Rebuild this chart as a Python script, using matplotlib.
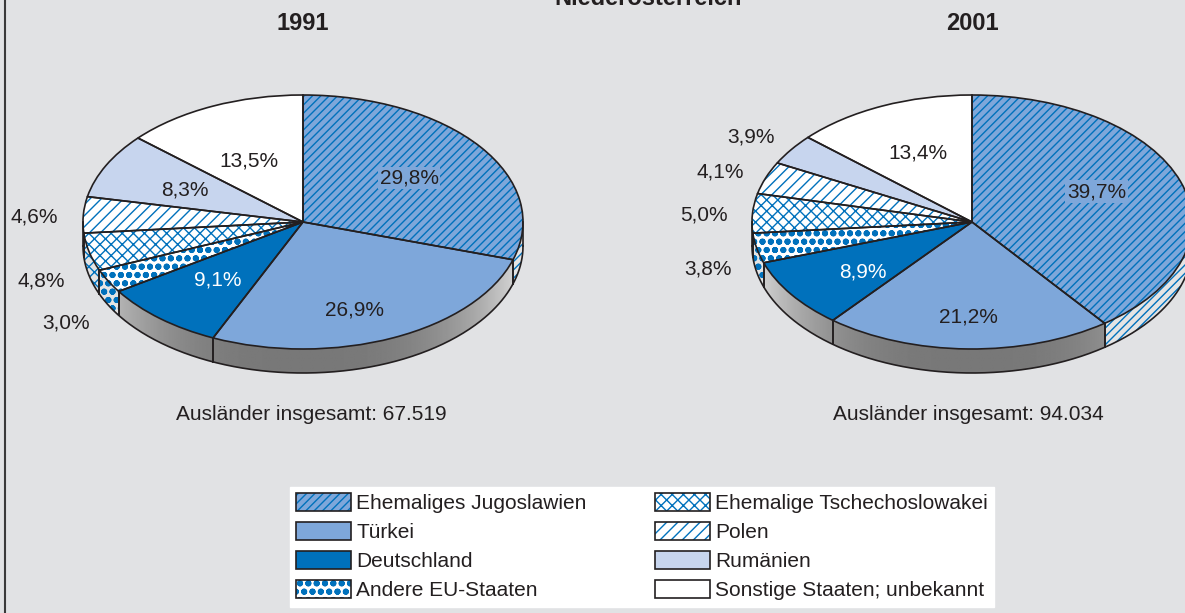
import numpy as np
import matplotlib
matplotlib.use("Agg")
import matplotlib.pyplot as plt
from matplotlib.patches import Patch, Polygon
from matplotlib.lines import Line2D
from matplotlib.legend_handler import HandlerPatch

plt.rcParams["font.family"] = ["Liberation Sans", "DejaVu Sans"]
plt.rcParams["hatch.linewidth"] = 1.0

# Daten
kategorien = ["Ehemaliges Jugoslawien", "Türkei", "Deutschland", "Andere EU-Staaten",
              "Ehemalige Tschechoslowakei", "Polen", "Rumänien",
              "Sonstige Staaten; unbekannt"]
anteil_1991 = [29.8, 26.9, 9.1, 3.0, 4.8, 4.6, 8.3, 13.5]
anteil_2001 = [39.7, 21.2, 8.9, 3.8, 5.0, 4.1, 3.9, 13.4]
jahre = ["1991", "2001"]
gesamt = ["67.519", "94.034"]
titel = "Niederösterreich"

# Stil
BLAU = "#0071bc"
TEXT = "#231f20"
HG = "#e1e2e4"
farben = ["#7ea7da", "#7ea7da", BLAU, "#ffffff", "#ffffff", "#ffffff", "#c7d5ee", "#ffffff"]
muster = ["////", "", "", "oo", "xxx", "///", "", ""]
PUNKT_LW = 2.0  # dickere Schraffur fuer die Punkte

# Layout (Pixel)
W, H = 1185, 613
CY, RX, RY, TIEFE = 222, 220, 127, 24
mitte_x = [303, 972]
ausl_x = [311, 968]
# Beschriftungen relativ zum Tortenmittelpunkt (Einheiten der Radien)
pos_1991 = [(0.482, 0.346), (0.236, -0.693), (-0.386, -0.457), (-1.077, -0.795),
            (-1.191, -0.465), (-1.223, 0.039), (-0.536, 0.252), (-0.245, 0.48)]
pos_2001 = [(0.566, 0.239), (-0.016, -0.746), (-0.497, -0.391), (-1.2, -0.37),
            (-1.218, 0.055), (-1.145, 0.396), (-1.003, 0.667), (-0.244, 0.541)]


def punkte(p, m):
    if m == "oo" and hasattr(p, "set_hatch_linewidth"):
        p.set_hatch_linewidth(PUNKT_LW)
    return p


def kopiere(neu, alt):
    neu.update_from(alt)
    if hasattr(alt, "get_hatch_linewidth"):
        neu.set_hatch_linewidth(alt.get_hatch_linewidth())


def sichtbar(a, b):
    # Teile eines Winkelbereichs, die auf der Vorderseite (180..360 Grad) liegen
    teile = []
    for off in (-720, -360, 0, 360):
        lo, hi = max(a, 180 + off), min(b, 360 + off)
        if hi > lo:
            teile.append((lo, hi))
    return teile


fig = plt.figure(figsize=(W / 100, H / 100), dpi=100, facecolor=HG)


def torte(cx, werte, positionen):
    ax = fig.add_axes([(cx - 1.5 * RX) / W, (H - CY - 1.5 * RY) / H, 3 * RX / W, 3 * RY / H])
    d = TIEFE / RY

    keile, _ = ax.pie(werte, colors=farben, hatch=muster, startangle=90, counterclock=False,
                      wedgeprops=dict(edgecolor=BLAU, linewidth=0))
    for k, m in zip(keile, muster):
        punkte(k, m)
    ax.pie(werte, startangle=90, counterclock=False,
           wedgeprops=dict(fill=False, edgecolor=TEXT, linewidth=1.2))

    # Seitenwand mit Schattierung
    t = np.radians(np.linspace(180, 360, 300))
    rand = np.concatenate([np.c_[np.cos(t), np.sin(t)],
                           np.c_[np.cos(t[::-1]), np.sin(t[::-1]) - d]])
    wand = Polygon(rand, closed=True, facecolor="none", edgecolor="none")
    ax.add_patch(wand)
    xs = np.linspace(-1, 1, 400)
    grau = 0.47 + 0.4 * np.abs(xs) ** 3
    im = ax.imshow(np.tile(grau, (2, 1)), cmap="gray", vmin=0, vmax=1,
                   extent=(-1, 1, -1 - d, 0), aspect="auto", zorder=0.5)
    im.set_clip_path(wand)

    for k, m in zip(keile, muster):
        for lo, hi in sichtbar(k.theta1, k.theta2):
            tt = np.radians(np.linspace(lo, hi, 100))
            poly = np.concatenate([np.c_[np.cos(tt), np.sin(tt)],
                                   np.c_[np.cos(tt[::-1]), np.sin(tt[::-1]) - d]])
            if m:
                punkte(ax.add_patch(Polygon(poly, facecolor="#e4e4e4", edgecolor=BLAU,
                                            linewidth=0, hatch=m, zorder=0.6)), m)
        for th in (k.theta1, k.theta2):
            r = np.radians(th)
            if np.sin(r) < -1e-6:
                ax.plot([np.cos(r)] * 2, [np.sin(r), np.sin(r) - d], color=TEXT, lw=1.2, zorder=2)
    ax.plot(np.cos(t), np.sin(t) - d, color=TEXT, lw=1.2, zorder=2)
    for s in (-1, 1):
        ax.plot([s, s], [0, -d], color=TEXT, lw=1.2, zorder=2)

    for i, (w, (px, py)) in enumerate(zip(werte, positionen)):
        txt = f"{w:.1f}%".replace(".", ",")
        farbe = "white" if i == 2 else TEXT
        bbox = None
        if i == 0:
            bbox = dict(boxstyle="square,pad=0.08", facecolor=farben[0], edgecolor="none")
        ax.text(px, py, txt, ha="center", va="center", fontsize=15, color=farbe,
                bbox=bbox, zorder=5, clip_on=False)

    ax.set_xlim(-1.5, 1.5)
    ax.set_ylim(-1.5, 1.5)
    ax.set_aspect("auto")
    ax.axis("off")


torte(mitte_x[0], anteil_1991, pos_1991)
torte(mitte_x[1], anteil_2001, pos_2001)

fig.text(648 / W, 1 - 5 / H, titel, ha="center", va="baseline", fontsize=17,
         fontweight="bold", color=TEXT)
for cx, ax_x, j, g in zip(mitte_x, ausl_x, jahre, gesamt):
    fig.text(cx / W, 1 - 24 / H, j, ha="center", va="center", fontsize=17,
             fontweight="bold", color=TEXT)
    fig.text(ax_x / W, 1 - 415 / H, "Ausländer insgesamt: " + g, ha="center",
             va="center", fontsize=15, color=TEXT)

# Legende
griffe = []
for f, m in zip(farben, muster):
    griffe.append((punkte(Patch(facecolor=f, edgecolor=BLAU, linewidth=0, hatch=m), m),
                   Patch(fill=False, edgecolor=TEXT, linewidth=1.2)))
fig.legend(griffe, kategorien, ncol=2, loc="upper left",
           bbox_to_anchor=(290 / W, 1 - 487 / H), fontsize=15, labelcolor=TEXT,
           frameon=True, fancybox=False, framealpha=1, facecolor="white",
           edgecolor="white", borderaxespad=0, borderpad=0.3, handlelength=2.64,
           handleheight=0.96, handletextpad=0.25, labelspacing=0.42,
           columnspacing=3.27, handler_map={Patch: HandlerPatch(update_func=kopiere)})

fig.add_artist(Line2D([4.5 / W] * 2, [0, 1], color="#3a3a3a", lw=1.5,
                      transform=fig.transFigure))

fig.savefig("out.png", dpi=100, facecolor=HG)
